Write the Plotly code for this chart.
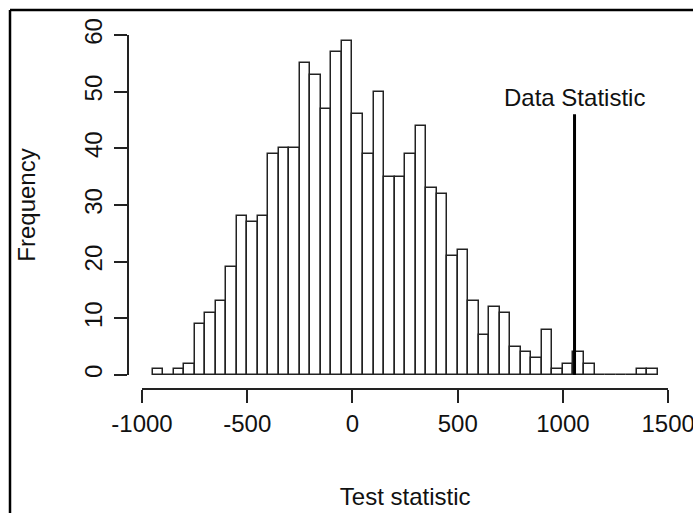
import plotly.graph_objects as go

# Histogram bins (left edges, width 50) and counts
bin_width = 50
bin_left = list(range(-950, 1450, bin_width))
counts = [1, 0, 1, 2, 9, 11, 13, 19, 28, 27, 28, 39, 40, 40, 55, 53, 47, 57, 59,
          46, 39, 50, 35, 35, 39, 44, 33, 32, 21, 22, 13, 7, 12, 11, 5, 4, 3, 8,
          1, 2, 4, 2, 0, 0, 0, 0, 1, 1]
x_ticks = [-1000, -500, 0, 500, 1000, 1500]
y_ticks = [0, 10, 20, 30, 40, 50, 60]
data_stat = 1055
data_stat_top = 46
label_y = 49

W, H = 693, 513
FONT = "Liberation Sans, Arial, sans-serif"
FS = 24

centers = [b + bin_width / 2 for b in bin_left]

fig = go.Figure()
fig.add_trace(go.Bar(
    x=centers, y=counts, width=bin_width,
    marker=dict(color="white", line=dict(color="#222222", width=1.5)),
    showlegend=False, hoverinfo="x+y",
))
fig.add_trace(go.Scatter(
    x=[data_stat, data_stat], y=[0, data_stat_top], mode="lines",
    line=dict(color="black", width=3), showlegend=False,
))
fig.add_annotation(x=data_stat, y=label_y, xref="x", yref="y", text="Data Statistic",
                   showarrow=False, font=dict(family=FONT, size=FS, color="#111111"))

def px_x(p):
    return p / W

def px_y(p):
    return (H - p) / H

fig.update_layout(
    width=W, height=H,
    margin=dict(l=0, r=0, t=0, b=0, autoexpand=False),
    paper_bgcolor="white", plot_bgcolor="white",
    font=dict(family=FONT, size=FS, color="#111111"),
    bargap=0,
    xaxis=dict(
        domain=[px_x(142), px_x(668.3)], range=[-1000, 1500.5],
        anchor="free", position=px_y(389), automargin=False,
        showline=True, linecolor="#222222", linewidth=1.5,
        ticks="outside", ticklen=13, tickwidth=1.5, tickcolor="#222222",
        tickvals=x_ticks, ticktext=[str(v) for v in x_ticks],
        ticklabeloverflow="allow",
        showgrid=False, zeroline=False,
        title=dict(text="Test statistic", standoff=52, font=dict(size=FS)),
    ),
    yaxis=dict(
        domain=[px_y(375), px_y(35)], range=[0, 60],
        anchor="free", position=px_x(128), automargin=False,
        showline=True, linecolor="#222222", linewidth=1.5,
        ticks="outside", ticklen=13, tickwidth=1.5, tickcolor="#222222",
        tickvals=y_ticks, ticktext=[str(v) for v in y_ticks], tickangle=-90,
        ticklabelstandoff=3,
        showgrid=False, zeroline=False,
        title=dict(text="Frequency", standoff=36, font=dict(size=FS)),
    ),
    shapes=[
        dict(type="line", xref="paper", yref="paper", x0=px_x(10), x1=1.0,
             y0=px_y(10), y1=px_y(10), line=dict(color="black", width=2.5)),
        dict(type="line", xref="paper", yref="paper", x0=px_x(10), x1=px_x(10),
             y0=px_y(10), y1=0, line=dict(color="black", width=2.5)),
    ],
)

fig.write_html("out.html")
